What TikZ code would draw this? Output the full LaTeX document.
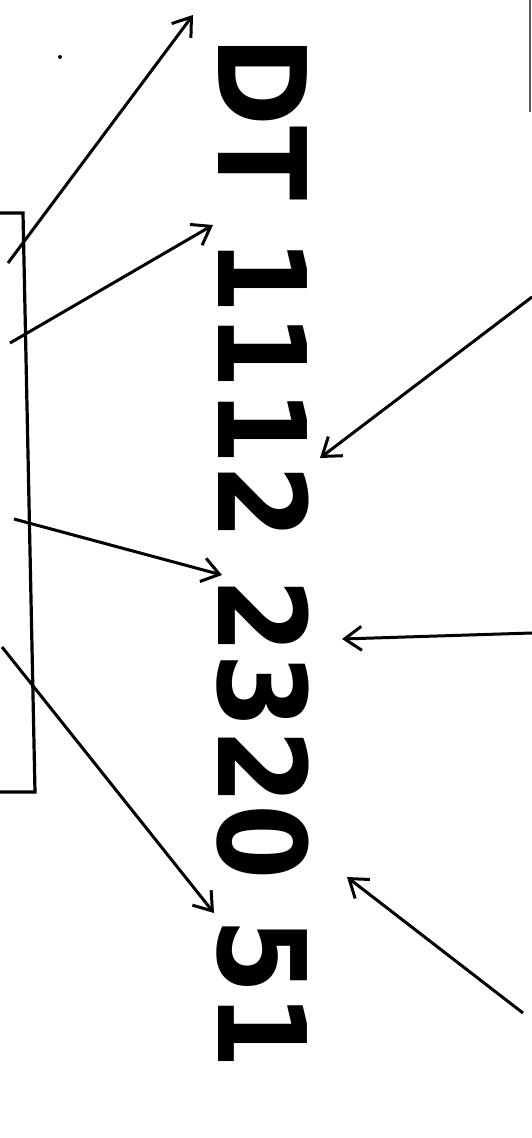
\documentclass[tikz,border=0pt]{standalone}
\usepackage{fontspec}
\setmainfont{DejaVu Sans}
\usetikzlibrary{arrows.meta}
\tikzset{pointer/.style={line width=3pt,-{Straight Barb[length=17pt,width=24pt,line width=3pt]}}}
\begin{document}
\begin{tikzpicture}[x=1pt,y=-1pt]
	\useasboundingbox (0,0) rectangle (532,1138);
	\node[rotate=-90,anchor=base west,inner sep=0pt] (code) at (218,36) {\fontsize{122}{130}\selectfont\bfseries\scalebox{0.89}[1]{DT 1112 2320 51}};
	% frame on the left
	\draw[line width=3.2pt] (0,213) -- (23,213) -- (35,792) -- (0,792);
	\draw[line width=1.6pt,gray!70!black] (530,0) -- (530,112);
	\fill (60,57) circle (2);
	% ends of the pointers
	\coordinate (s1) at (8,263);     \coordinate (t1) at (193,15);
	\coordinate (s2) at (10,343);    \coordinate (t2) at (213,225);
	\coordinate (s3) at (14,519);    \coordinate (t3) at (222,575);
	\coordinate (s4) at (2,647);     \coordinate (t4) at (214,913);
	\coordinate (s5) at (532,297);   \coordinate (t5) at (320,458);
	\coordinate (s6) at (532,633);   \coordinate (t6) at (342,639);
	\coordinate (s7) at (523,1013);  \coordinate (t7) at (347,877);
	\draw[pointer] (s1) -- (t1);
	\draw[pointer] (s2) -- (t2);
	\draw[pointer] (s3) -- (t3);
	\draw[pointer] (s4) -- (t4);
	\draw[pointer] (s5) -- (t5);
	\draw[pointer] (s6) -- (t6);
	\draw[pointer] (s7) -- (t7);
\end{tikzpicture}
\end{document}
